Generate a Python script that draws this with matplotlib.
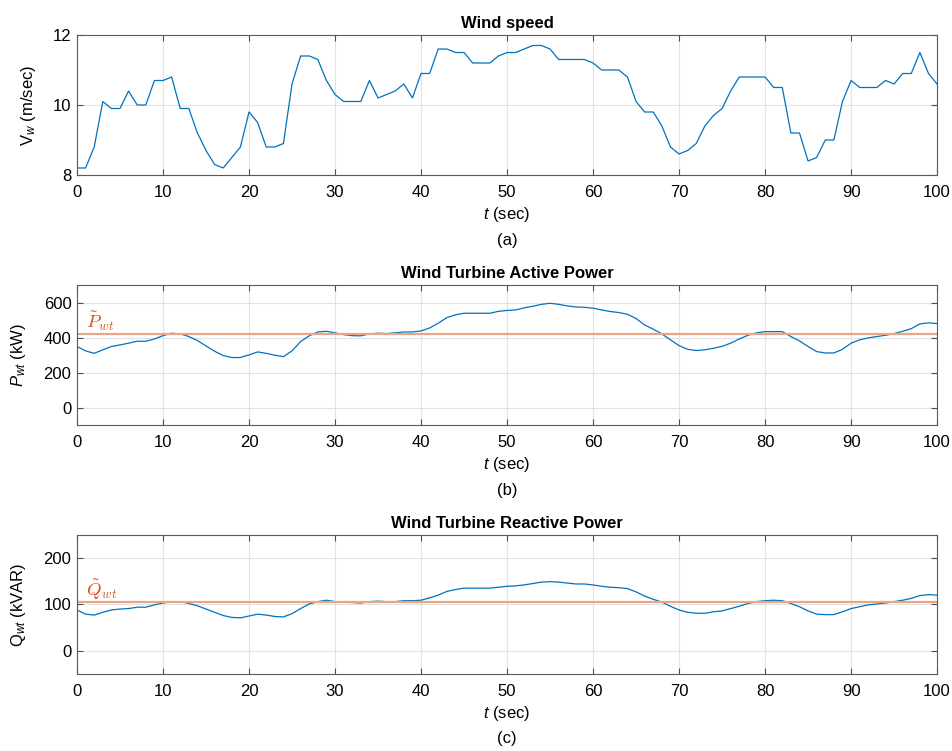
#!/usr/bin/env python3
"""
Wind speed, active and reactive power of the wind turbine
"""

import numpy as np
import matplotlib
matplotlib.use('Agg')
import matplotlib.pyplot as plt

plt.rcParams['font.family'] = ['Liberation Sans', 'DejaVu Sans']
plt.rcParams['mathtext.fontset'] = 'custom'
plt.rcParams['mathtext.rm'] = 'Liberation Sans'
plt.rcParams['mathtext.it'] = 'Liberation Sans:italic'
plt.rcParams['mathtext.bf'] = 'Liberation Sans:bold'

t = np.arange(0, 101)

# wind speed (m/sec), 1 s steps
v_wind = [8.2, 8.2, 8.8, 10.1, 9.9, 9.9, 10.4, 10.0, 10.0, 10.7,
          10.7, 10.8, 9.9, 9.9, 9.2, 8.7, 8.3, 8.2, 8.5, 8.8,
          9.8, 9.5, 8.8, 8.8, 8.9, 10.6, 11.4, 11.4, 11.3, 10.7,
          10.3, 10.1, 10.1, 10.1, 10.7, 10.2, 10.3, 10.4, 10.6, 10.2,
          10.9, 10.9, 11.6, 11.6, 11.5, 11.5, 11.2, 11.2, 11.2, 11.4,
          11.5, 11.5, 11.6, 11.7, 11.7, 11.6, 11.3, 11.3, 11.3, 11.3,
          11.2, 11.0, 11.0, 11.0, 10.8, 10.1, 9.8, 9.8, 9.4, 8.8,
          8.6, 8.7, 8.9, 9.4, 9.7, 9.9, 10.4, 10.8, 10.8, 10.8,
          10.8, 10.5, 10.5, 9.2, 9.2, 8.4, 8.5, 9.0, 9.0, 10.1,
          10.7, 10.5, 10.5, 10.5, 10.7, 10.6, 10.9, 10.9, 11.5, 10.9,
          10.6]

# active power (kW)
p_wt = [349, 324, 310, 330, 349, 358, 368, 379, 379, 392,
        411, 425, 421, 406, 383, 352, 322, 297, 286, 286,
        301, 318, 310, 299, 291, 324, 377, 410, 432, 436,
        427, 417, 411, 410, 421, 425, 423, 427, 432, 432,
        438, 455, 482, 514, 530, 539, 539, 539, 539, 550,
        555, 558, 570, 579, 590, 596, 590, 581, 575, 573,
        568, 558, 549, 543, 533, 509, 472, 448, 421, 387,
        354, 333, 326, 330, 339, 350, 368, 392, 413, 427,
        434, 434, 434, 406, 381, 349, 320, 312, 312, 333,
        368, 387, 398, 406, 413, 423, 436, 451, 478, 484,
        480]

# reactive power (kVAR)
q_wt = [88, 79, 77, 83, 88, 90, 91, 94, 94, 99,
        103, 106, 106, 102, 97, 90, 83, 76, 72, 71,
        75, 79, 77, 74, 73, 80, 91, 101, 106, 109,
        106, 105, 104, 103, 106, 107, 106, 106, 108, 108,
        109, 114, 120, 128, 132, 135, 135, 135, 135, 137,
        139, 140, 142, 145, 148, 149, 148, 146, 144, 144,
        142, 139, 137, 136, 134, 127, 118, 111, 105, 96,
        88, 83, 81, 81, 84, 86, 91, 96, 102, 106,
        108, 109, 108, 102, 95, 86, 79, 78, 78, 84,
        91, 95, 99, 101, 103, 106, 109, 113, 119, 121,
        120]

p_ref = 421
q_ref = 105

blue = '#0072BD'
orange = '#D95319'
ref_col = '#EAA486'
fs = 12

fig = plt.figure(figsize=(9.53, 7.51), dpi=100)
left, width = 0.0808, 0.9025
ax1 = fig.add_axes([left, 0.767, width, 0.1864])
ax2 = fig.add_axes([left, 0.434, width, 0.1864])
ax3 = fig.add_axes([left, 0.1025, width, 0.1854])


def style(ax, tag):
    ax.set_xlim(0, 100)
    ax.set_xticks(np.arange(0, 101, 10))
    ax.grid(True, color='#e3e3e3', linewidth=0.8)
    ax.set_axisbelow(True)
    ax.tick_params(direction='in', top=True, right=True, length=4,
                   width=0.8, color='#4d4d4d', labelsize=fs)
    ax.tick_params(axis='x', pad=7)
    ax.tick_params(axis='y', pad=4)
    for sp in ax.spines.values():
        sp.set_color('#5a5a5a')
        sp.set_linewidth(0.8)
    ax.set_xlabel(r'$t$ (sec)', fontsize=fs, labelpad=4)
    ax.text(0.5, -0.465, tag, transform=ax.transAxes, ha='center',
            va='center', fontsize=fs)


ax1.plot(t, v_wind, color=blue, linewidth=0.9)
ax1.set_ylim(8, 12)
ax1.set_yticks([8, 10, 12])
ax1.set_ylabel(r'V$_{w}$ (m/sec)', fontsize=fs, labelpad=11)
ax1.set_title('Wind speed', fontsize=fs, fontweight='bold', pad=5)
style(ax1, '(a)')

ax2.plot(t, p_wt, color=blue, linewidth=0.9)
ax2.axhline(p_ref, color=ref_col, linewidth=1.6)
ax2.text(1.1, p_ref + 5, r'$\tilde{P}_{wt}$', color=orange, fontsize=13.5,
         math_fontfamily='cm', ha='left', va='bottom')
ax2.set_ylim(-100, 700)
ax2.set_yticks([0, 200, 400, 600])
ax2.set_ylabel(r'$P_{wt}$ (kW)', fontsize=fs, labelpad=11)
ax2.set_title('Wind Turbine Active Power', fontsize=fs, fontweight='bold', pad=5)
style(ax2, '(b)')

ax3.plot(t, q_wt, color=blue, linewidth=0.9)
ax3.axhline(q_ref, color=ref_col, linewidth=1.6)
ax3.text(1.1, q_ref + 1, r'$\tilde{Q}_{wt}$', color=orange, fontsize=13.5,
         math_fontfamily='cm', ha='left', va='bottom')
ax3.set_ylim(-50, 250)
ax3.set_yticks([0, 100, 200])
ax3.set_ylabel(r'Q$_{wt}$ (kVAR)', fontsize=fs, labelpad=11)
ax3.set_title('Wind Turbine Reactive Power', fontsize=fs, fontweight='bold', pad=5)
style(ax3, '(c)')

fig.savefig('out.png', dpi=100)
